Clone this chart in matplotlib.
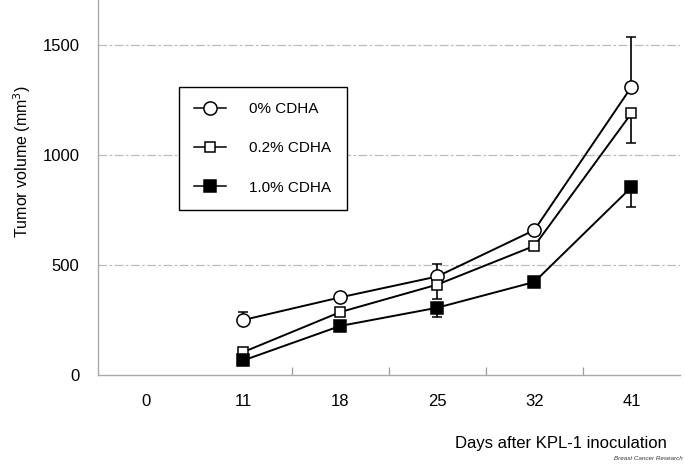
import matplotlib
matplotlib.use("Agg")
import matplotlib.pyplot as plt
from matplotlib.lines import Line2D

plt.rcParams['font.family'] = ['Liberation Sans', 'DejaVu Sans']

days = ["0", "11", "18", "25", "32", "41"]
x_idx = [1, 2, 3, 4, 5]  # category positions of measured days (11..41)

cdha0 = [250, 353, 448, 659, 1310]
cdha0_err_up = [36, 0, 57, 0, 225]

cdha02 = [104, 286, 411, 587, 1190]
cdha02_err_dn = [0, 0, 66, 0, 137]

cdha10 = [66, 223, 306, 423, 854]
cdha10_err_dn = [0, 0, 41, 0, 89]

labels = ['0% CDHA', '0.2% CDHA', '1.0% CDHA']
yticks = [0, 500, 1000, 1500]

fig = plt.figure(figsize=(6.85, 4.65), dpi=100)
ax = fig.add_axes([97.5/685, 1 - 375/465, 582.5/685, 375/465])

zeros = [0]*5
lw = 1.4
styles = [
    dict(marker='o', ms=9.5, mfc='white'),
    dict(marker='s', ms=7.5, mfc='white'),
    dict(marker='s', ms=8.5, mfc='black'),
]
common = dict(color='black', lw=lw, capsize=3.5, elinewidth=1.2, capthick=1.2,
              mec='black', mew=1.1, zorder=3)
ax.errorbar(x_idx, cdha0, yerr=[zeros, cdha0_err_up], **styles[0], **common)
ax.errorbar(x_idx, cdha02, yerr=[cdha02_err_dn, zeros], **styles[1], **common)
ax.errorbar(x_idx, cdha10, yerr=[cdha10_err_dn, zeros], **styles[2], **common)

ax.set_xlim(-0.5, 5.5)
ax.set_ylim(0, 1705)
ax.set_xticks(range(len(days)))
ax.set_xticklabels(days, fontsize=12)
ax.set_yticks(yticks)
ax.set_yticklabels([str(v) for v in yticks], fontsize=12)
ax.tick_params(axis='both', length=0)
ax.tick_params(axis='x', pad=14)
ax.tick_params(axis='y', pad=13)
ax.set_xticks([1.5, 2.5, 3.5, 4.5], minor=True)
ax.tick_params(axis='x', which='minor', direction='in', length=6, color='#999999', width=0.9)

for s in ['top', 'right']:
    ax.spines[s].set_visible(False)
for s in ['left', 'bottom']:
    ax.spines[s].set_color('#aaaaaa')
    ax.spines[s].set_linewidth(1.0)

for v in yticks[1:]:
    ax.axhline(v, color='#bbbbbb', lw=0.9, ls=(0, (7, 2, 2, 2)), zorder=1)

handles = [Line2D([], [], color='black', lw=1.1, mec='black', mew=1.1, **st) for st in styles]
leg = ax.legend(handles, labels, loc='upper left', bbox_to_anchor=(81.5/582.5, (375-87)/375),
                borderaxespad=0, fontsize=11, frameon=True, fancybox=False,
                edgecolor='black', handlelength=2.1, handletextpad=1.5,
                labelspacing=1.65, borderpad=1.0, framealpha=1)
leg.get_frame().set_linewidth(1.0)

fig.text(22/685, 1 - 162/465, 'Tumor volume (mm$^3$)', rotation=90,
         ha='center', va='center', fontsize=11.5)
fig.text(561/685, 1 - 443/465, 'Days after KPL-1 inoculation',
         ha='center', va='center', fontsize=12)
fig.text(683/685, 1 - 458/465, 'Breast Cancer Research', ha='right', va='center',
         fontsize=4.5, style='italic', color='#333333')

fig.savefig('out.png', dpi=100)
